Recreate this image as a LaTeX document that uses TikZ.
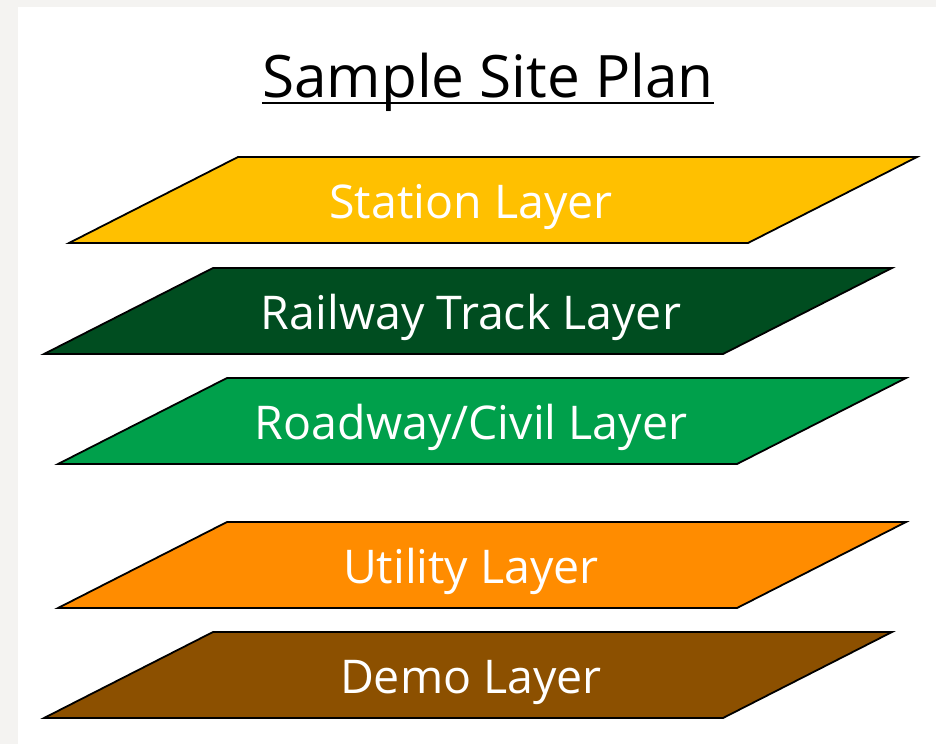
\documentclass[tikz,border=0pt]{standalone}
\usepackage{fontspec}
\setmainfont{Open Sans}
\usepackage{tikz}
\usetikzlibrary{positioning}

\definecolor{pagegray}{HTML}{F4F3F1}
\definecolor{stationyellow}{HTML}{FFC000}
\definecolor{trackgreen}{HTML}{004D20}
\definecolor{civilgreen}{HTML}{00A04B}
\definecolor{utilorange}{HTML}{FF8C00}
\definecolor{demobrown}{HTML}{8C5000}

\tikzset{
  layerbox/.style={draw=black,line width=1.8pt,line join=miter},
  layertext/.style={text=white,font=\fontsize{46.5}{50}\selectfont,
    inner sep=0pt,anchor=base},
}

% one layer of the plan: name, top left x, top y, colour, text
\newcommand{\planlayer}[5]{%
  \draw[layerbox,fill=#4] (#2,#3) -- ++(679,0) -- ++(-169,86) -- ++(-679,0) -- cycle;
  \node[layertext] (#1) at (471,#3+61) {#5};
}

\begin{document}
\begin{tikzpicture}[x=1pt,y=-1pt]
    \useasboundingbox (0,0) rectangle (936,744);
    \fill[pagegray] (0,0) rectangle (936,744);
    \fill[white] (18,7) rectangle (936,744);

    \node (title) [font=\fontsize{58.5}{62}\selectfont,inner sep=0pt,anchor=base]
        at (488,97) {Sample Site Plan};
    \draw[line width=1.4pt] ([yshift=-6pt]title.base west) -- ([yshift=-6pt]title.base east);

    \planlayer{station}{238}{157}{stationyellow}{Station Layer}
    \planlayer{track}{213}{268}{trackgreen}{Railway Track Layer}
    \planlayer{civil}{227}{378}{civilgreen}{Roadway/Civil Layer}
    \planlayer{utility}{227}{522}{utilorange}{Utility Layer}
    \planlayer{demo}{213}{632}{demobrown}{Demo Layer}

\end{tikzpicture}
\end{document}
